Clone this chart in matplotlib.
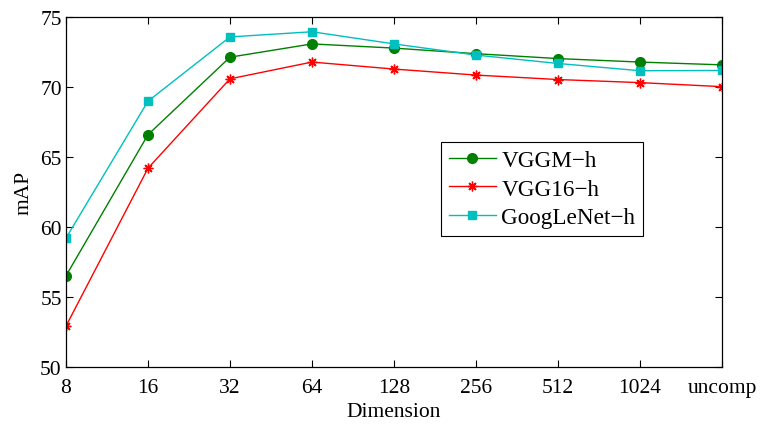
import numpy as np
import matplotlib
import matplotlib.pyplot as plt

font = {'size': 15.5, 'family': 'serif', 'serif': ['Liberation Serif', 'DejaVu Serif']}
matplotlib.rc('font', **font)

## Data
dims = ['8', '16', '32', '64', '128', '256', '512', '1024', 'uncomp']
vggm = [56.5, 66.6, 72.15, 73.1, 72.8, 72.4, 72.05, 71.8, 71.6]
vgg16 = [52.9, 64.2, 70.6, 71.8, 71.3, 70.87, 70.55, 70.33, 70.04]
googlenet = [59.2, 69.0, 73.6, 73.97, 73.1, 72.3, 71.7, 71.18, 71.2]

x = np.arange(len(dims))

fig = plt.figure(figsize=(7.61, 4.27), dpi=100)
ax = fig.add_axes([0.0867, 0.139, 0.862, 0.818])

ax.plot(x, vggm, '-o', color='#008000', lw=1.0, ms=7,
	label='VGGM\u2212h')
ax.plot(x, vgg16, '-', marker=(8, 2, 0), color='#ff0000', lw=1.0, ms=7,
	mew=1.0, label='VGG16\u2212h')
ax.plot(x, googlenet, '-s', color='#00bfbf', lw=1.0, ms=6,
	label='GoogLeNet\u2212h')

ax.set_xlim(0, len(dims) - 1)
ax.set_ylim(50, 75)
ax.set_xticks(x)
ax.set_xticklabels(dims)
ax.set_yticks(np.arange(50, 76, 5))
ax.tick_params(direction='in', top=True, right=True, length=5, width=0.8)
ax.tick_params(axis='x', pad=8.5)
ax.tick_params(axis='y', pad=3)
for s in ax.spines.values():
	s.set_linewidth(0.9)

ax.set_xlabel('Dimension', labelpad=3)
ax.set_ylabel('mAP', labelpad=5)

leg = ax.legend(loc='upper left', bbox_to_anchor=(441/761, 1 - 143/427),
	bbox_transform=fig.transFigure, fancybox=False, framealpha=1,
	edgecolor='black', fontsize=16.7, handlelength=2.0, borderpad=0.35,
	labelspacing=0.3, handletextpad=0.25, borderaxespad=0)
leg.get_frame().set_linewidth(0.8)

fig.savefig('out.png', dpi=100)
